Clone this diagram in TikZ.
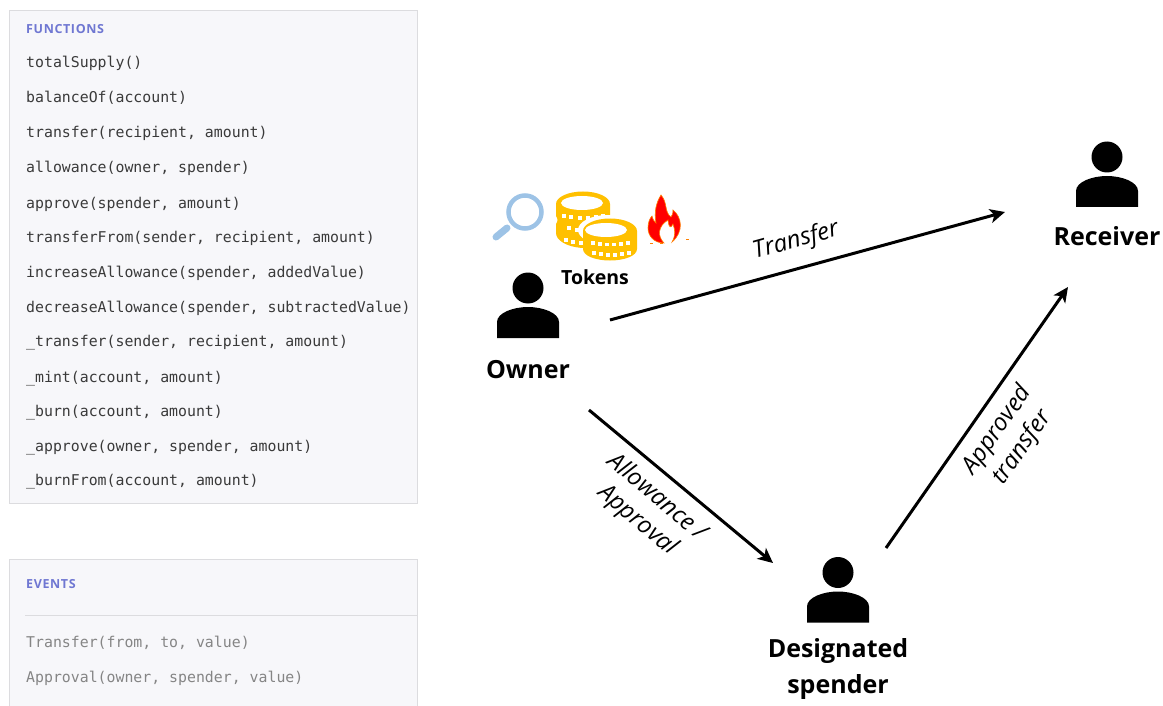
\documentclass[tikz,border=0pt]{standalone}
\usepackage{fontspec}
\setmainfont{Open Sans}
\newfontfamily\codefont{DejaVu Sans Mono}
\newfontfamily\headfont[LetterSpace=5]{Open Sans}
\newfontfamily\lblfont{Open Sans}
\definecolor{panelfill}{HTML}{F7F7FA}
\definecolor{panelline}{HTML}{DCDCDF}
\definecolor{headblue}{HTML}{6F77D2}
\definecolor{codeink}{HTML}{3A3A3A}
\definecolor{eventink}{HTML}{858585}
\definecolor{coin}{HTML}{FFC000}
\definecolor{lens}{HTML}{9DC3E6}
\usetikzlibrary{arrows.meta}
\tikzset{
  x=1pt,y=-1pt,
  panel/.style={draw=panelline,line width=1pt,fill=panelfill},
  headtxt/.style={anchor=base west,inner sep=0pt,font=\headfont\bfseries\fontsize{12.5}{14}\selectfont,text=headblue},
  code/.style={anchor=base west,inner sep=0pt,font=\codefont\fontsize{14.85}{16}\selectfont,text=codeink},
  event/.style={code,text=eventink},
  who/.style={inner sep=0pt,align=center,font=\lblfont\bfseries\fontsize{25}{36.5}\selectfont},
  tok/.style={inner sep=0pt,font=\lblfont\bfseries\fontsize{19.5}{22}\selectfont},
  edgelabel/.style={inner sep=0pt,align=center,font=\lblfont\itshape\fontsize{24}{30}\selectfont},
  flow/.style={-{Stealth[length=15pt,width=14pt,inset=4pt]},line width=3pt,black},
  person/.pic={
    \fill[black] (0,0) circle[radius=15.5];
    \fill[black] (-31,50) -- (-31,34) .. controls (-31,25) and (-15,19) .. (0,19)
      .. controls (15,19) and (31,25) .. (31,34) -- (31,50) -- cycle;
  }
}
\begin{document}
\begin{tikzpicture}
\useasboundingbox (0,0) rectangle (1163,706);
% panels
\path[panel] (9.5,10.5) rectangle (417.5,503.5);
\path[panel] (9.5,559.5) rectangle (417.5,720);
\draw[panelline,line width=1pt] (25,615) -- (417,615);
\node[headtxt] (fh) at (26,33.5) {FUNCTIONS};
\node[code] (f1) at (26,68) {totalSupply()};
\node[code] (f2) at (26,103) {balanceOf(account)};
\node[code] (f3) at (26,138) {transfer(recipient, amount)};
\node[code] (f4) at (26,173) {allowance(owner, spender)};
\node[code] (f5) at (26,208) {approve(spender, amount)};
\node[code] (f6) at (26,242) {transferFrom(sender, recipient, amount)};
\node[code] (f7) at (26,277) {increaseAllowance(spender, addedValue)};
\node[code] (f8) at (26,312) {decreaseAllowance(spender, subtractedValue)};
\node[code] (f9) at (26,346) {\_transfer(sender, recipient, amount)};
\node[code] (f10) at (26,382) {\_mint(account, amount)};
\node[code] (f11) at (26,416) {\_burn(account, amount)};
\node[code] (f12) at (26,451) {\_approve(owner, spender, amount)};
\node[code] (f13) at (26,485) {\_burnFrom(account, amount)};
\node[headtxt] (eh) at (26,588.5) {EVENTS};
\node[event] (e1) at (26,647) {Transfer(from, to, value)};
\node[event] (e2) at (26,682) {Approval(owner, spender, value)};
% people
\pic at (528,288) {person};
\pic at (1107,157) {person};
\pic at (838,572.5) {person};
\node[who] (owner) at (528,370) {Owner};
\node[who] (receiver) at (1107,236.5) {Receiver};
\node[who] (spender) at (838,669) {Designated\\spender};
% magnifier
\draw[lens,line width=4.5pt] (525,212) circle[radius=16.5];
\draw[lens,line width=7pt,line cap=round] (507,228) -- (496,237);
% coins back stack
\fill[coin] (556,204) arc[start angle=180,end angle=360,x radius=27,y radius=12.5]
  -- (610,216) .. controls (612,220) and (614,224) .. (612,230) -- (600,248) -- (583,248)
  .. controls (566,247) and (556,240) .. (556,233) -- (556,224) .. controls (558,221) and (558,219) .. (556,216) -- cycle;
\fill[white] (582,203) ellipse[x radius=21,y radius=7];
\foreach \a/\b in {562/214,569/215,578/216,586/216,594/215,601/214,564/238,571/240,579/241,567/226,575/228}
  \fill[white] (\a,\b) rectangle ++(4,3.6);
% coins front stack
\fill[white] (608,230) ellipse[x radius=30,y radius=15];
\fill[coin] (583,231) arc[start angle=180,end angle=360,x radius=27,y radius=12.5]
  -- (637,249) .. controls (637,256) and (624,260.5) .. (610,260.5) .. controls (596,260.5) and (583,256) .. (583,249) -- cycle;
\fill[white] (606,230) ellipse[x radius=21,y radius=7];
\foreach \a/\b in {591/241,598/242,605/242.5,612/242.5,619/242,626/241,592/251,599/252,606/253,613/253,620/252,627/251}
  \fill[white] (\a,\b) rectangle ++(4,3.6);
% flame
\fill[red,draw=orange,line width=0.6pt] (661,195) .. controls (668,203) and (664,212) .. (671,217)
  .. controls (673,214) and (673,212) .. (673,210)
  .. controls (682,217) and (684,232) .. (672,242)
  .. controls (676,235) and (675,230) .. (673,224)
  .. controls (671,228) and (669,229) .. (668,220)
  .. controls (658,226) and (657,236) .. (664,243)
  .. controls (654,243) and (648,236) .. (648,228)
  .. controls (648,222) and (650,218) .. (652,216)
  .. controls (653,220) and (654,221) .. (656,223)
  .. controls (654,212) and (656,203) .. (661,195) -- cycle;
\fill[orange] (650,243) rectangle ++(3,1);
\fill[orange] (686,238.5) rectangle ++(3,1);
\fill[orange] (660,243) rectangle ++(3,1);
\node[tok] (tokens) at (595,277) {Tokens};
% connectors
\coordinate (a1) at (610,320); \coordinate (a2) at (1005,212);
\coordinate (b1) at (589,410); \coordinate (b2) at (773,563);
\coordinate (c1) at (886,548); \coordinate (c2) at (1068,287);
\draw[flow] (a1) -- (a2);
\draw[flow] (b1) -- (b2);
\draw[flow] (c1) -- (c2);
\node[edgelabel,rotate=15.5] (lt) at (796,241) {Transfer};
\node[edgelabel,rotate=-40] (la) at (647,509) {Allowance /\\Approval};
\node[edgelabel,rotate=55] (lc) at (1010,439) {Approved\\transfer};
\end{tikzpicture}
\end{document}
